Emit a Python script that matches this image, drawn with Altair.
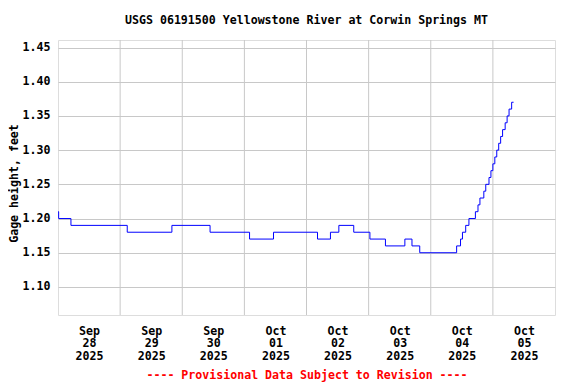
import altair as alt
import pandas as pd

# Gage height change points (UTC strings), step-after interpolation
times = [
    "2025-09-28T00:00:00Z", "2025-09-28T00:15:00Z", "2025-09-28T05:00:00Z",
    "2025-09-29T02:45:00Z", "2025-09-29T20:00:00Z", "2025-09-30T10:45:00Z",
    "2025-10-01T02:00:00Z", "2025-10-01T11:15:00Z", "2025-10-02T04:15:00Z",
    "2025-10-02T09:15:00Z", "2025-10-02T12:30:00Z", "2025-10-02T18:15:00Z",
    "2025-10-03T00:30:00Z", "2025-10-03T06:30:00Z", "2025-10-03T14:00:00Z",
    "2025-10-03T16:45:00Z", "2025-10-03T19:45:00Z", "2025-10-04T10:00:00Z",
    "2025-10-04T11:30:00Z", "2025-10-04T12:15:00Z", "2025-10-04T13:30:00Z",
    "2025-10-04T14:45:00Z", "2025-10-04T17:15:00Z", "2025-10-04T18:15:00Z",
    "2025-10-04T19:00:00Z", "2025-10-04T20:30:00Z", "2025-10-04T21:15:00Z",
    "2025-10-04T22:30:00Z", "2025-10-04T23:15:00Z", "2025-10-05T00:00:00Z",
    "2025-10-05T00:45:00Z", "2025-10-05T01:30:00Z", "2025-10-05T02:15:00Z",
    "2025-10-05T03:00:00Z", "2025-10-05T03:45:00Z", "2025-10-05T04:45:00Z",
    "2025-10-05T05:30:00Z", "2025-10-05T06:15:00Z", "2025-10-05T07:15:00Z",
    "2025-10-05T08:00:00Z",
]
heights = [
    1.21, 1.20, 1.19,
    1.18, 1.19, 1.18,
    1.17, 1.18, 1.17,
    1.18, 1.19, 1.18,
    1.17, 1.16, 1.17,
    1.16, 1.15, 1.16,
    1.17, 1.18, 1.19,
    1.20, 1.21, 1.22,
    1.23, 1.24, 1.25,
    1.26, 1.27, 1.28,
    1.29, 1.30, 1.31,
    1.32, 1.33, 1.34,
    1.35, 1.36, 1.37,
    1.37,
]

grid_days = [
    "2025-09-29T00:00:00Z", "2025-09-30T00:00:00Z", "2025-10-01T00:00:00Z",
    "2025-10-02T00:00:00Z", "2025-10-03T00:00:00Z", "2025-10-04T00:00:00Z",
    "2025-10-05T00:00:00Z",
]
label_days = [(9, 28), (9, 29), (9, 30), (10, 1), (10, 2), (10, 3), (10, 4), (10, 5)]
y_ticks = [1.10, 1.15, 1.20, 1.25, 1.30, 1.35, 1.40, 1.45]

FONT = "DejaVu Sans Mono"
FS = 11.6
GRID = "#c8c8c8"

df = pd.DataFrame({"time": times, "height": heights})
gdf = pd.DataFrame({"time": grid_days})

x_scale = alt.Scale(
    type="utc",
    domain=[alt.DateTime(year=2025, month=9, date=28, utc=True),
            alt.DateTime(year=2025, month=10, date=6, utc=True)],
)
y_scale = alt.Scale(domain=[1.059, 1.461], nice=False, zero=False)

x_axis = alt.Axis(
    values=[alt.DateTime(year=2025, month=m, date=d, hours=12, utc=True) for m, d in label_days],
    labelExpr="[utcFormat(datum.value, '%b'), utcFormat(datum.value, '%d'), utcFormat(datum.value, '%Y')]",
    grid=False, ticks=False, domain=False,
    labelPadding=10, labelLineHeight=12.7,
    labelFont=FONT, labelFontSize=FS, labelFontWeight="bold", labelColor="black",
    labelFlush=False, labelOverlap=False,
    title="---- Provisional Data Subject to Revision ----",
    titleFont=FONT, titleFontSize=FS, titleFontWeight="bold", titleColor="#ff0000",
    titlePadding=7,
)

rules = alt.Chart(gdf).mark_rule(color=GRID, strokeWidth=1).encode(
    x=alt.X("time:T", scale=x_scale, axis=x_axis)
)

line = alt.Chart(df).mark_line(
    interpolate="step-after", color="#0000ff", strokeWidth=1, clip=True
).encode(
    x=alt.X("time:T", scale=x_scale, axis=x_axis),
    y=alt.Y(
        "height:Q",
        scale=y_scale,
        axis=alt.Axis(
            values=y_ticks, format=".2f",
            grid=True, gridColor=GRID, gridWidth=1,
            ticks=False, domain=False, labelPadding=8,
            labelFont=FONT, labelFontSize=FS, labelFontWeight="bold", labelColor="black",
            title="Gage height, feet",
            titleFont=FONT, titleFontSize=FS, titleFontWeight="bold", titleColor="black",
            titleAngle=270, titleX=-44, titleY=143, titleAlign="center", titleBaseline="middle",
        ),
    ),
)

chart = alt.layer(rules, line).properties(
    width=497,
    height=275,
    autosize=alt.AutoSizeParams(type="none"),
    padding={"left": 50, "top": 32, "right": 13, "bottom": 68},
    title=alt.TitleParams(
        "USGS 06191500 Yellowstone River at Corwin Springs MT",
        font=FONT, fontSize=FS, fontWeight="bold", color="black",
        anchor="middle", frame="group", offset=4, baseline="alphabetic",
    ),
).configure_view(stroke="black", strokeWidth=1).configure(background="white")

chart.save("out.html", embed_options={"renderer": "svg", "actions": False})
